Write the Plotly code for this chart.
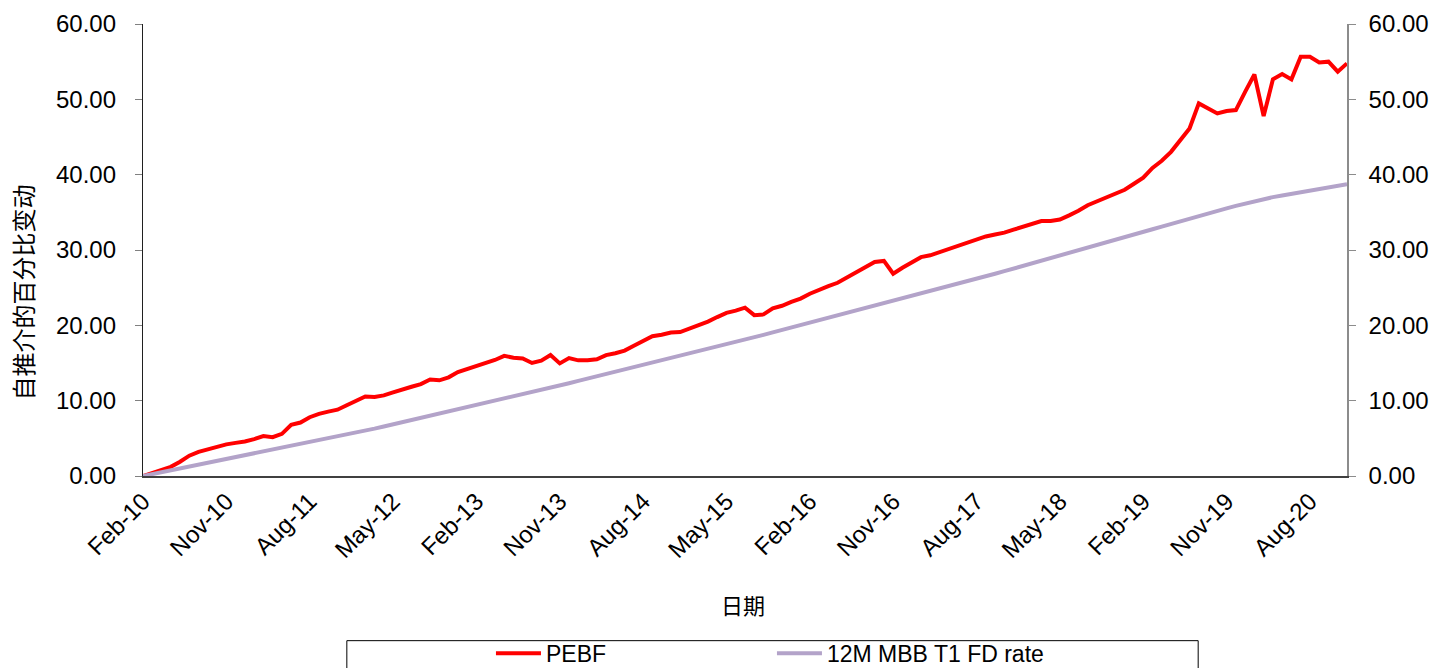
import plotly.graph_objects as go

# ---- data ----
month_names = ["Jan", "Feb", "Mar", "Apr", "May", "Jun", "Jul", "Aug", "Sep", "Oct", "Nov", "Dec"]
categories = []
for yr in range(2010, 2021):
    for m in range(12):
        if yr == 2010 and m < 1:
            continue
        categories.append(f"{month_names[m]}-{str(yr)[2:]}")

pebf = [
    0.00, 0.38, 0.78, 1.22, 1.90, 2.70, 3.20, 3.55, 3.90, 4.20,
    4.40, 4.58, 4.90, 5.30, 5.15, 5.60, 6.80, 7.10, 7.80, 8.25,
    8.55, 8.80, 9.40, 10.00, 10.55, 10.48, 10.70, 11.10, 11.42, 11.85,
    12.20, 12.80, 12.70, 13.10, 13.80, 14.20, 14.55, 14.90, 15.40, 15.95,
    15.70, 15.60, 15.00, 15.30, 16.05, 14.95, 15.65, 15.35, 15.35, 15.50,
    16.05, 16.30, 16.65, 17.30, 17.95, 18.55, 18.75, 19.05, 19.10, 19.55,
    20.00, 20.50, 21.10, 21.65, 21.95, 22.35, 21.35, 21.45, 22.25, 22.60,
    23.10, 23.55, 24.20, 24.75, 25.20, 25.65, 26.30, 27.00, 27.75, 28.40,
    28.55, 26.85, 27.65, 28.35, 29.05, 29.30, 29.72, 30.15, 30.50, 30.90,
    31.35, 31.80, 32.05, 32.30, 32.70, 33.10, 33.45, 33.85, 33.85, 34.05,
    34.60, 35.20, 35.95, 36.45, 36.90, 37.40, 38.00, 38.80, 39.60, 40.90,
    41.84, 43.03, 44.50, 46.13, 49.46, 48.80, 48.13, 48.44, 48.57, 51.00,
    53.30, 47.77, 52.65, 53.36, 52.65, 55.66, 55.66, 54.90, 55.00, 53.67,
    54.77,
]

fd_rate = [
    0.00, 0.25, 0.49, 0.74, 0.99, 1.23, 1.48, 1.73, 1.97, 2.22,
    2.47, 2.71, 2.96, 3.20, 3.45, 3.70, 3.94, 4.19, 4.44, 4.68,
    4.93, 5.18, 5.44, 5.73, 6.01, 6.29, 6.58, 6.86, 7.15, 7.43,
    7.71, 8.00, 8.28, 8.56, 8.85, 9.13, 9.42, 9.70, 9.98, 10.27,
    10.55, 10.83, 11.12, 11.40, 11.70, 12.01, 12.31, 12.62, 12.92, 13.23,
    13.53, 13.84, 14.14, 14.45, 14.75, 15.05, 15.36, 15.66, 15.97, 16.27,
    16.58, 16.88, 17.19, 17.49, 17.80, 18.10, 18.42, 18.74, 19.06, 19.38,
    19.70, 20.01, 20.33, 20.65, 20.97, 21.29, 21.61, 21.93, 22.25, 22.57,
    22.89, 23.21, 23.52, 23.84, 24.16, 24.48, 24.80, 25.14, 25.48, 25.82,
    26.16, 26.50, 26.85, 27.19, 27.53, 27.87, 28.21, 28.55, 28.90, 29.25,
    29.60, 29.95, 30.30, 30.65, 31.00, 31.35, 31.70, 32.05, 32.40, 32.76,
    33.11, 33.47, 33.83, 34.19, 34.54, 34.90, 35.22, 35.53, 35.85, 36.17,
    36.48, 36.80, 37.02, 37.23, 37.45, 37.66, 37.88, 38.09, 38.31, 38.52,
    38.74,
]

tick_labels = ["Feb-10", "Nov-10", "Aug-11", "May-12", "Feb-13", "Nov-13", "Aug-14",
               "May-15", "Feb-16", "Nov-16", "Aug-17", "May-18", "Feb-19", "Nov-19", "Aug-20"]
y_ticks = [0, 10, 20, 30, 40, 50, 60]

series_names = ["PEBF", "12M MBB T1 FD rate"]
y_title = "自推介的百分比变动"
x_title = "日期"

# ---- figure ----
FONT = "Liberation Sans, Arial, Noto Sans CJK SC, sans-serif"
TICK_SIZE = 24

fig = go.Figure()
fig.add_trace(go.Scatter(
    x=categories, y=pebf, name=series_names[0], mode="lines",
    line=dict(color="#FF0000", width=4), yaxis="y"))
fig.add_trace(go.Scatter(
    x=categories, y=fd_rate, name=series_names[1], mode="lines",
    line=dict(color="#B3A3C9", width=4), yaxis="y2"))

fig.update_layout(
    template="none",
    width=1435, height=668,
    margin=dict(l=143, r=88, t=24, b=192, autoexpand=False),
    paper_bgcolor="white", plot_bgcolor="white",
    font=dict(family=FONT, size=22, color="black"),
    showlegend=True,
    legend=dict(orientation="h", x=0.289, xanchor="left", y=0.022,
                yref="container", yanchor="middle", itemwidth=45,
                font=dict(size=23), entrywidth=221, entrywidthmode="pixels",
                bgcolor="rgba(0,0,0,0)", borderwidth=0),
    xaxis=dict(type="category", range=[0, len(categories) - 1], automargin=False,
               tickmode="array", tickvals=tick_labels, ticktext=tick_labels,
               tickangle=-45, ticks="", showgrid=False, zeroline=False,
               showline=True, linecolor="#404040", linewidth=1.5,
               tickfont=dict(size=TICK_SIZE)),
    yaxis=dict(range=[0, 60], tickvals=y_ticks, tickformat=".2f", automargin=False,
               showgrid=False, zeroline=False, showline=True, linecolor="#202020",
               linewidth=1.3, ticks="outside", ticklen=7, tickcolor="#808080",
               tickwidth=1.3, ticklabelstandoff=14, tickfont=dict(size=TICK_SIZE)),
    yaxis2=dict(range=[0, 60], tickvals=y_ticks, tickformat=".2f", overlaying="y",
                automargin=False,
                side="right", showgrid=False, zeroline=False, showline=True,
                linecolor="#8C8C8C", linewidth=1.5, ticks="outside", ticklen=7,
                tickcolor="#8C8C8C", tickwidth=1.3, ticklabelstandoff=8,
                tickfont=dict(size=TICK_SIZE)),
    shapes=[dict(type="rect", xref="paper", yref="paper",
                 x0=0.1693, x1=0.8764, y0=-0.3643, y1=-0.44,
                 line=dict(color="black", width=1), fillcolor="rgba(0,0,0,0)")],
    annotations=[
        dict(text=y_title, xref="paper", yref="paper", x=-0.1005, y=0.406,
             xanchor="center", yanchor="middle", textangle=-90, showarrow=False,
             font=dict(size=24, family="Noto Sans CJK SC, sans-serif")),
        dict(text=x_title, xref="paper", yref="paper", x=0.498, y=-0.2824,
             xanchor="center", yanchor="middle", showarrow=False,
             font=dict(size=22, family="Noto Sans CJK SC, sans-serif")),
    ],
)

fig.write_html("out.html", config={"displayModeBar": False},
               post_script="document.body.style.margin='0';document.body.style.overflow='hidden';")
